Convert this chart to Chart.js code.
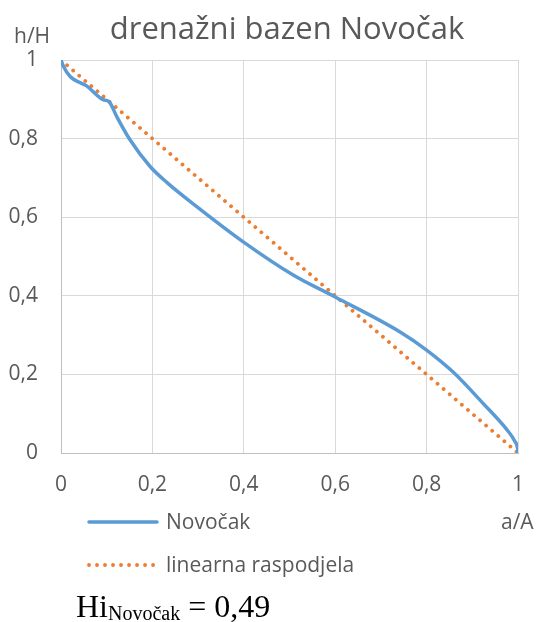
<!DOCTYPE html>
<html>
<head>
<meta charset="utf-8">
<script src="https://cdn.jsdelivr.net/npm/chart.js@4"></script>
<style>
  html, body { margin: 0; padding: 0; background: #fff; }
  #wrap { width: 541px; height: 622px; }
</style>
</head>
<body>
<div id="wrap"><canvas id="chart" width="541" height="622"></canvas></div>
<script>
"use strict";

const naslov = "drenažni bazen Novočak";
const nazivY = "h/H";
const nazivX = "a/A";
const hiTekst = { main: "Hi", sub: "Novočak", rest: " = 0,49" };

// krivulja Novočak (a/A, h/H)
const novocakX = [0, 0.005, 0.02, 0.056, 0.092, 0.105, 0.122, 0.151, 0.195, 0.232, 0.297, 0.398, 0.508, 0.6, 0.742, 0.8, 0.858, 0.923, 0.976, 0.993, 0.999, 1];
const novocakY = [1, 0.985, 0.958, 0.934, 0.899, 0.894, 0.856, 0.797, 0.729, 0.688, 0.627, 0.538, 0.453, 0.397, 0.308, 0.262, 0.206, 0.127, 0.059, 0.03, 0.012, 0];

// linearna raspodjela
const linearX = [0, 1];
const linearY = [1, 0];

const tickVrijednosti = [0, 0.2, 0.4, 0.6, 0.8, 1];

const PLAVA = "#5b9bd5";
const NARANCASTA = "#ed7d31";
const SIVA = "#595959";

const tickFormat = v => String(Math.round(v * 10) / 10).replace(".", ",");

const dodaci = {
  id: "dodaci",
  afterDraw(chart) {
    const ctx = chart.ctx;
    ctx.save();
    ctx.fillStyle = SIVA;
    ctx.textBaseline = "middle";

    ctx.font = "31px 'Open Sans'";
    ctx.textAlign = "center";
    ctx.fillText(naslov, 287, 30);

    ctx.font = "21px 'Open Sans'";
    ctx.textAlign = "left";
    ctx.fillText(nazivY, 14, 37);
    ctx.fillText(nazivX, 501, 523);

    // legenda
    const ds = chart.data.datasets;
    const redovi = [522, 565];
    ds.forEach((d, i) => {
      const y = redovi[i];
      ctx.beginPath();
      ctx.strokeStyle = d.borderColor;
      ctx.lineWidth = d.borderWidth;
      ctx.lineCap = d.borderCapStyle || "butt";
      ctx.setLineDash(d.borderDash || []);
      ctx.moveTo(89, y);
      ctx.lineTo(157, y);
      ctx.stroke();
      ctx.setLineDash([]);
      ctx.fillStyle = SIVA;
      ctx.fillText(d.label, 166, y + 1);
    });

    // Hi
    ctx.fillStyle = "#000";
    ctx.textBaseline = "alphabetic";
    let x = 76;
    ctx.font = "32px 'Liberation Serif'";
    ctx.fillText(hiTekst.main, x, 617);
    x += ctx.measureText(hiTekst.main).width;
    ctx.font = "20px 'Liberation Serif'";
    ctx.fillText(hiTekst.sub, x, 620);
    x += ctx.measureText(hiTekst.sub).width;
    ctx.font = "32px 'Liberation Serif'";
    ctx.fillText(hiTekst.rest, x, 617);
    ctx.restore();
  }
};

new Chart(document.getElementById("chart"), {
  type: "scatter",
  data: {
    datasets: [
      {
        label: "Novočak",
        data: novocakX.map((x, i) => ({ x, y: novocakY[i] })),
        showLine: true,
        borderColor: PLAVA,
        backgroundColor: PLAVA,
        borderWidth: 3.5,
        borderCapStyle: "round",
        cubicInterpolationMode: "monotone",
        pointRadius: 0
      },
      {
        label: "linearna raspodjela",
        data: linearX.map((x, i) => ({ x, y: linearY[i] })),
        showLine: true,
        borderColor: NARANCASTA,
        backgroundColor: NARANCASTA,
        borderWidth: 3.8,
        borderCapStyle: "round",
        borderDash: [0.01, 8],
        pointRadius: 0
      }
    ]
  },
  options: {
    responsive: false,
    animation: false,
    layout: { padding: { left: 0, top: 60, right: 23, bottom: 0 } },
    plugins: {
      legend: { display: false },
      tooltip: { enabled: false }
    },
    scales: {
      x: {
        type: "linear",
        min: 0,
        max: 1,
        afterBuildTicks: s => { s.ticks = tickVrijednosti.map(v => ({ value: v })); },
        afterFit: s => {
          s.height = 169;
          s.paddingLeft = 0;
          s.paddingRight = 0;
        },
        grid: { color: "#d9d9d9", lineWidth: 1, drawTicks: false },
        border: { color: "#bfbfbf", width: 1 },
        ticks: {
          color: SIVA,
          font: { family: "'Open Sans'", size: 21 },
          padding: 19,
          maxRotation: 0,
          callback: tickFormat
        }
      },
      y: {
        type: "linear",
        min: 0,
        max: 1,
        afterBuildTicks: s => { s.ticks = tickVrijednosti.map(v => ({ value: v })); },
        afterFit: s => { s.width = 61; },
        grid: { color: "#d9d9d9", lineWidth: 1, drawTicks: false },
        border: { color: "#bfbfbf", width: 1 },
        ticks: {
          color: SIVA,
          font: { family: "'Open Sans'", size: 21 },
          padding: 23,
          callback: tickFormat
        }
      }
    }
  },
  plugins: [dodaci]
});
</script>
</body>
</html>
